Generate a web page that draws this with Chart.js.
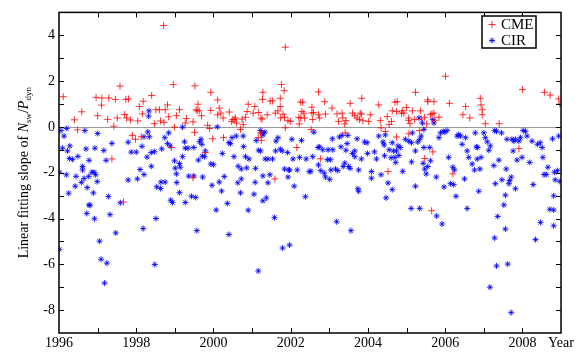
<!DOCTYPE html>
<html>
<head>
<meta charset="utf-8">
<script src="https://cdn.jsdelivr.net/npm/chart.js@4.4.1/dist/chart.umd.min.js"></script>
<style>
  html, body { margin: 0; padding: 0; background: #fff; }
  canvas { display: block; }
</style>
</head>
<body>
<canvas id="slopeChart" width="585" height="355"></canvas>
<script>
// Year ticks along the bottom (odd years get a tick mark but no label)
const yearTicks = [1996, 1998, 2000, 2002, 2004, 2006, 2008];
const slopeTicks = [4, 2, 0, -2, -4, -6, -8];

// CME events: year (decimal) and fitted slope
const cmeYear = [
  1996.11, 1996.40, 1996.59, 1996.48, 1996.96, 1997.11, 1997.10, 1997.00, 1997.26, 1997.29,
  1997.46, 1997.58, 1997.51, 1997.42, 1997.37, 1997.73, 1997.80, 1997.70, 1997.75, 1997.85,
  1998.04, 1998.08, 1998.16, 1998.18, 1998.40, 1997.90, 1997.98, 1998.13, 1997.67, 1998.47,
  1998.51, 1998.60, 1998.75, 1998.71, 1998.63, 1998.72, 1998.81, 1998.84, 1998.96, 1998.99,
  1998.91, 1999.04, 1999.12, 1999.30, 1999.27, 1999.47, 1999.52, 1999.51, 1999.55, 1999.60,
  1999.58, 1999.63, 1999.69, 1999.47, 1999.93, 1999.93, 1999.85, 1999.90, 1999.98, 1999.79,
  2000.11, 2000.15, 2000.11, 2000.19, 2000.25, 2000.26,
  2000.41, 2000.47, 2000.54, 2000.57, 2000.50, 2000.60, 2000.70, 2000.77, 2000.74, 2000.83,
  2000.87, 2000.90, 2001.03, 2001.07, 2001.17, 2001.23, 2001.26, 2001.27, 2001.28, 2001.16,
  2001.24, 2001.22, 2001.39, 2001.47, 2001.53, 2001.60, 2001.67, 2001.73, 2001.73, 2001.76,
  2001.83, 2001.86, 2001.74, 2001.80, 2001.84, 2001.93, 2001.99, 2001.86, 2001.59, 2002.16,
  2002.26, 2002.31, 2002.29, 2002.34, 2002.26, 2002.21, 2002.22, 2002.36, 2002.55, 2002.59,
  2002.55, 2002.57, 2002.53, 2002.72, 2002.75, 2002.72, 2002.88, 2002.90, 2002.77, 2003.07,
  2003.20, 2003.24, 2003.33, 2003.40, 2003.35, 2003.43, 2003.41, 2003.54, 2003.60, 2003.66,
  2003.72, 2003.80, 2003.84, 2003.83, 2003.78, 2003.87, 2004.02, 2004.06, 2004.28, 2004.32,
  2004.34, 2004.50, 2004.55, 2004.45, 2004.52,
  2004.63, 2004.70, 2004.76, 2004.61, 2004.74, 2004.74, 2004.87, 2004.93, 2005.00, 2004.89,
  2005.05, 2005.06, 2005.09, 2005.06, 2005.15, 2005.23, 2005.21, 2005.36, 2005.39, 2005.34,
  2005.47, 2005.47, 2005.52, 2005.55, 2005.55, 2005.62, 2005.66, 2005.71, 2005.71, 2005.73,
  2005.84, 2005.68, 2005.65, 2006.20, 2006.01, 2006.11, 2006.46, 2006.53, 2006.64, 2006.91,
  2006.93, 2006.96, 2006.96, 2007.04, 2007.40, 2007.91, 2008.00, 2008.57, 2008.72, 2008.94,
  2008.97
];
const cmeSlope = [
  1.32, 0.31, 0.66, -0.13, 1.29, 1.26, 0.95, 0.49, 0.33, 1.26,
  1.20, 1.78, 0.39, 0.03, -1.40, 1.20, 1.22, 0.54, 0.39, 0.30,
  0.26, 0.89, 0.57, 1.12, 1.37, -0.37, -0.54, -0.43, -3.28, 0.14,
  0.75, 0.75, 0.75, 4.43, 0.26, 0.20, 0.96, 0.44, 1.85, -0.01,
  -0.90, 0.49, 0.75, 0.37, 0.17, 0.22, 1.79, -0.24, 0.75, 0.99,
  0.70, 0.70, 0.49, -2.22, 1.51, 0.72, 0.07, -0.07, -0.52, -1.12,
  1.18, 0.82, 0.53, 0.60, 0.39, -0.47,
  0.65, 0.24, 0.32, 0.39, 0.32, 0.17, -0.11, 0.10, 0.34, 0.42,
  0.67, 0.99, 0.60, 0.89, 0.63, 0.39, 0.34, 1.20, 1.51, -0.47,
  -0.59, -0.27, 0.53, 1.13, 1.13, 0.60, 0.70, 0.89, 1.25, 1.85,
  1.58, 3.48, 0.39, 0.56, 0.42, 0.27, 0.24, -0.04, -2.27, -0.90,
  1.08, 1.08, 0.67, 0.60, 0.39, 0.42, 0.13, 0.39, 0.86, 0.63,
  0.60, 0.32, -0.11, 1.53, 0.39, 0.53, 1.10, 0.56, -1.39, 0.82,
  0.57, 0.24, 0.60, 0.13, 0.39, 0.27, -0.26, 1.03, 0.60, 0.49,
  0.39, 0.60, 1.25, 0.56, 0.32, 0.27, 0.24, 0.53, 0.96, 0.27,
  -0.04, 0.45, 0.10, -0.20, -1.95,
  0.70, 1.08, 1.10, 0.24, 0.67, -0.44, 0.60, 0.60, 0.85, 0.70,
  0.29, 0.39, 0.14, -0.30, 0.70, 1.51, 0.32, 0.70, 0.34, -0.16,
  0.42, -1.38, 0.13, 1.10, 1.18, 0.53, 0.57, 1.10, 0.60, 0.29,
  0.42, -1.09, -3.66, -2.05, 2.21, 1.03, 0.53, 0.89, 0.39, 1.25,
  0.96, 0.75, 0.53, 0.14, 0.14, -0.95, 1.63, 1.51, 1.39, 1.22,
  1.00
];

// CIR events: year (decimal) and fitted slope
const cirYear = [
  1996.05, 1996.20, 1996.13, 1996.09, 1996.22, 1996.28, 1996.27, 1996.35, 1996.49, 1996.70,
  1996.67, 1996.01, 1996.19, 1996.44, 1996.25, 1996.42, 1996.58, 1996.61, 1996.61, 1996.65,
  1996.73, 1996.77, 1996.78, 1996.85, 1996.91, 1996.93, 1996.89, 1996.99, 1996.95, 1997.00,
  1996.78, 1996.80, 1996.72, 1996.92, 1997.05, 1997.09, 1997.24, 1997.18, 1996.01, 1997.16,
  1997.22, 1997.37, 1997.28, 1997.32, 1997.47, 1997.59, 1997.79, 1997.87, 1998.00, 1997.79,
  1998.03, 1998.15, 1998.20, 1998.10, 1998.28, 1998.30, 1998.20, 1998.34, 1998.32, 1998.33,
  1998.39, 1998.47, 1998.39, 1998.66, 1998.53, 1998.63, 1998.64, 1998.75, 1998.51, 1998.18,
  1998.48, 1998.74, 1998.81, 1998.84, 1998.88, 1998.99, 1999.01, 1999.04, 1999.05, 1998.89,
  1998.94, 1999.12, 1999.14, 1999.20, 1999.25, 1999.27, 1999.34, 1999.20, 1999.12, 1999.27,
  1999.36, 1999.43, 1999.54, 1999.49, 1999.49, 1999.57, 1999.61, 1999.64, 1999.68, 1999.70,
  1999.71, 1999.77, 1999.72, 1999.79, 1999.93, 2000.00, 1999.96, 2000.07, 2000.15, 2000.21,
  2000.28, 2000.23, 2000.10,
  2000.48, 2000.40, 2000.44, 2000.59, 2000.77, 2000.53, 2000.64, 2000.72, 2000.78, 2000.83,
  2000.86, 2000.92, 2000.63, 2000.72, 2000.70, 2000.36, 2000.40, 2000.90, 2001.05, 2001.08,
  2001.09, 2001.11, 2001.17, 2001.22, 2001.22, 2001.26, 2001.33, 2001.28, 2001.34, 2001.41,
  2001.28, 2001.28, 2001.37, 2001.41, 2001.46, 2001.53, 2001.58, 2001.16, 2001.62, 2001.61,
  2001.67, 2001.73, 2001.78, 2001.84, 2001.95, 2001.93, 2002.09, 2001.97, 2001.92, 2002.03,
  2002.06, 2001.79, 2001.97, 2002.17, 2002.23, 2002.28, 2002.38, 2002.40, 2002.48, 2002.52,
  2002.57, 2002.60, 2002.71, 2002.75, 2002.72, 2002.78, 2002.83, 2002.87, 2002.90, 2002.97,
  2002.95, 2003.03, 2003.01, 2003.04, 2003.09, 2003.08, 2003.16, 2003.19, 2003.22, 2003.26,
  2003.30, 2003.33, 2003.36, 2003.40, 2003.43, 2003.46, 2003.48, 2003.50, 2003.54, 2003.56,
  2003.60, 2003.66, 2003.66, 2003.72, 2003.74, 2003.76, 2003.76, 2003.83, 2003.91, 2003.98,
  2003.99, 2004.09, 2004.09, 2004.17, 2004.22, 2004.28, 2004.34, 2004.39, 2004.42, 2004.47,
  2004.43, 2004.52, 2004.55, 2004.60, 2004.45, 2004.80,
  2004.66, 2004.63, 2004.70, 2004.74, 2004.78, 2004.84, 2004.72, 2004.90, 2004.63, 2004.97,
  2005.06, 2005.13, 2005.15, 2005.13, 2005.23, 2005.12, 2005.34, 2005.23, 2005.29, 2005.34,
  2005.38, 2005.32, 2005.41, 2005.45, 2005.45, 2005.43, 2005.47, 2005.51, 2005.55, 2005.60,
  2005.62, 2005.68, 2005.71, 2005.77, 2005.78, 2005.84, 2005.88, 2005.92, 2005.95, 2005.97,
  2005.99, 2006.05, 2006.09, 2006.14, 2006.20, 2006.22, 2006.24, 2006.28, 2006.31, 2006.35,
  2006.40, 2006.44, 2006.50, 2006.57, 2006.57, 2006.53, 2006.61, 2006.70, 2006.76, 2006.78,
  2006.81, 2006.84, 2006.83, 2006.87, 2006.90, 2006.93, 2007.00, 2007.04, 2007.09, 2007.13,
  2007.17, 2007.16, 2007.28, 2007.33, 2007.26, 2007.30, 2007.28, 2007.33, 2007.36, 2007.39,
  2007.46, 2007.47, 2007.52, 2007.56, 2007.56, 2007.58, 2007.60, 2007.62, 2007.65, 2007.67,
  2007.71, 2007.71, 2007.73, 2007.76, 2007.78, 2007.82, 2007.82, 2007.86, 2007.91, 2007.95,
  2007.99, 2008.02, 2008.08, 2008.12, 2008.19, 2008.25, 2008.28, 2008.34, 2008.39, 2008.46,
  2008.47, 2008.51, 2008.53, 2008.56, 2008.62, 2008.66, 2008.71, 2008.78, 2008.81, 2008.81,
  2008.81, 2008.83, 2008.85, 2008.91, 2008.94, 2008.97
];
const cirSlope = [
  -0.16, -0.07, -0.40, -0.93, -1.05, -0.83, -1.38, -1.42, -1.29, -0.96,
  -0.16, -1.98, -2.09, -2.16, -2.90, -2.59, -2.42, -1.88, -1.73, -2.25,
  -2.65, -2.16, -1.46, -1.98, -1.98, -0.93, -2.88, -2.39, -2.09, -0.29,
  -3.40, -3.43, -3.78, -4.01, -4.99, -5.78, -5.95, -6.82, -5.35, -1.03,
  -1.46, -0.72, -3.04, -3.83, -4.63, -3.31, -0.67, -1.10, -1.10, -2.32,
  -2.27, -0.85, -2.08, -1.86, -1.32, -0.22, -0.43, -0.43, 0.47, 0.70,
  -1.12, -1.08, -1.72, -0.96, -2.62, -2.69, -2.41, -2.41, -4.00, -4.44,
  -6.01, -0.47, -0.73, -0.26, -0.83, -1.48, -1.80, -2.05, -2.43, -3.20,
  -3.30, -1.60, -1.76, -1.30, -0.65, -0.93, -0.93, -0.01, -2.87, -3.30,
  -2.15, -3.03, -3.08, -0.90, -2.14, -4.53, -1.45, -0.65, -0.54, -0.76,
  -1.28, -1.30, -2.19, -1.05, -1.62, -1.65, -2.55, -3.63, -2.41, -2.80,
  -2.17, -1.16, 0.00,
  -0.47, -0.69, -0.73, -0.40, -0.40, -1.30, -1.72, -1.84, -0.86, -1.30,
  -1.79, -1.40, -2.44, -2.27, -2.88, -3.34, -4.70, -3.64, -2.94, -2.42,
  -1.81, -0.59, -1.02, -1.05, -0.16, -0.26, -0.23, -0.36, -1.40, -1.40,
  -2.14, -3.23, -3.10, -2.44, -2.09, -1.40, -3.96, -6.29, -0.62, -1.05,
  -0.47, -0.97, -1.05, -1.84, -1.88, -2.19, -2.59, -1.88, -1.12, -0.54,
  -1.40, -5.29, -5.16, -1.88, -1.33, -0.59, -3.05, -1.40, -1.95, -1.94,
  -1.30, -0.23, -0.90, -0.87, -1.66, -1.91, -1.00, -2.02, -2.19, -1.00,
  -1.43, -1.43, -2.29, -1.88, -1.00, -0.52, -1.84, -4.14, -1.91, -0.44,
  -0.87, -0.37, -1.73, -1.58, -1.02, -0.73, -0.37, -1.73, -1.81, -4.53,
  -1.16, -1.30, -1.05, -0.52, -2.70, -2.81, -1.88, -1.40, -0.66, -0.69,
  -1.16, -2.24, -1.95, -1.09, -1.40, -0.40, -2.09, -0.66, -0.79, -3.10,
  -1.26, -2.45, -1.00, -1.35, -0.35, -1.25,
  -1.05, -0.69, -1.33, -1.05, -0.83, -0.90, -1.55, -1.94, -2.74, -0.54,
  -0.62, -0.69, -0.26, -1.53, -2.59, -3.56, -3.56, -1.05, -0.66, -0.54,
  -0.40, 0.39, 0.17, -0.11, -0.90, -1.59, -1.84, -2.05, -1.73, -0.90,
  -1.48, 0.32, 0.17, -2.19, -3.89, -0.47, -0.26, -4.24, -0.19, -2.62,
  -0.23, -0.16, -1.33, -2.48, -1.76, -2.52, -1.88, -3.03, -0.40, -0.33,
  -0.40, -0.76, -2.27, -3.56, -1.05, -0.47, -1.33, -1.62, -1.88, -0.26,
  -0.87, -0.90, -1.40, -2.81, -1.84, -1.33, -0.26, -0.47, -0.65, -1.02,
  -0.83, -7.00, -0.16, -0.19, -1.69, -2.48, -4.85, -6.07, -3.91, -1.45,
  -0.26, -2.31, -3.41, -2.98, -4.46, -1.84, -0.54, -5.99, -2.48, -2.34,
  -2.19, -8.11, -0.54, -1.05, -0.62, -0.54, -2.70, -1.45, -0.62, -0.47,
  -1.33, -0.16, -0.19, -0.40, -1.55, -0.62, -2.52, -4.92, -0.76, -0.69,
  -4.17, -0.90, -1.33, -2.08, -2.08, -1.76, -3.60, -0.52, -3.01, -3.63,
  -4.32, -1.98, -2.31, -1.91, -0.40, -2.38
];

const cmePoints = cmeYear.map((x, i) => ({ x: x, y: cmeSlope[i] }));
const cirPoints = cirYear.map((x, i) => ({ x: x, y: cirSlope[i] }));

const serif = '"Liberation Serif", "DejaVu Serif", serif';

// Frame, inward ticks, zero line, legend box and y title with subscripts
const framePlugin = {
  id: 'frame',
  beforeDatasetsDraw(chart) {
    const { ctx, chartArea: a, scales: { y } } = chart;
    const y0 = y.getPixelForValue(0);
    ctx.save();
    ctx.strokeStyle = '#9a9a9a';
    ctx.lineWidth = 1;
    ctx.beginPath();
    ctx.moveTo(a.left, Math.round(y0) + 0.5);
    ctx.lineTo(a.right, Math.round(y0) + 0.5);
    ctx.stroke();
    ctx.restore();
  },
  afterDatasetsDraw(chart) {
    const { ctx, chartArea: a, scales: { x, y } } = chart;
    ctx.save();
    ctx.strokeStyle = '#000';
    ctx.lineWidth = 1.5;
    ctx.strokeRect(a.left, a.top, a.right - a.left, a.bottom - a.top);

    // inward ticks every year / every unit
    ctx.lineWidth = 1;
    ctx.beginPath();
    for (let yr = 1997; yr < 2009; yr++) {
      const px = Math.round(x.getPixelForValue(yr)) + 0.5;
      ctx.moveTo(px, a.bottom); ctx.lineTo(px, a.bottom - 5);
      ctx.moveTo(px, a.top); ctx.lineTo(px, a.top + 5);
    }
    for (let v = -8; v <= 4; v++) {
      const py = Math.round(y.getPixelForValue(v)) + 0.5;
      ctx.moveTo(a.left, py); ctx.lineTo(a.left + 5, py);
      ctx.moveTo(a.right, py); ctx.lineTo(a.right - 5, py);
    }
    ctx.stroke();

    // legend box, entries taken from the datasets
    const lx = 482, ly = 16, lw = 54, lh = 32;
    ctx.fillStyle = '#fff';
    ctx.fillRect(lx, ly, lw, lh);
    ctx.lineWidth = 1.5;
    ctx.strokeRect(lx, ly, lw, lh);
    ctx.font = '15px ' + serif;
    ctx.textBaseline = 'middle';
    ctx.textAlign = 'left';
    chart.data.datasets.forEach((ds, i) => {
      const cy = ly + 8.5 + i * 16;
      const mx = lx + 10;
      const r = ds.radius;
      ctx.strokeStyle = ds.borderColor;
      ctx.lineWidth = ds.borderWidth;
      ctx.beginPath();
      ctx.moveTo(mx - r, cy); ctx.lineTo(mx + r, cy);
      ctx.moveTo(mx, cy - r); ctx.lineTo(mx, cy + r);
      if (ds.pointStyle === 'star') {
        const d = r * 0.707;
        ctx.moveTo(mx - d, cy - d); ctx.lineTo(mx + d, cy + d);
        ctx.moveTo(mx - d, cy + d); ctx.lineTo(mx + d, cy - d);
      }
      ctx.stroke();
      ctx.fillStyle = '#000';
      ctx.fillText(ds.label, lx + 19, cy + 1);
    });

    // y title: Linear fitting slope of N_sw/P_dyn
    const parts = [
      { t: 'Linear fitting slope of ', f: '14px ' + serif, dy: 0 },
      { t: 'N', f: 'italic 14px ' + serif, dy: 0 },
      { t: 'sw', f: '9px ' + serif, dy: 3 },
      { t: '/', f: '14px ' + serif, dy: 0 },
      { t: 'P', f: 'italic 14px ' + serif, dy: 0 },
      { t: 'dyn', f: '9px ' + serif, dy: 3 }
    ];
    let total = 0;
    parts.forEach(p => { ctx.font = p.f; p.w = ctx.measureText(p.t).width; total += p.w; });
    ctx.translate(28, (a.top + a.bottom) / 2);
    ctx.rotate(-Math.PI / 2);
    ctx.textBaseline = 'alphabetic';
    ctx.fillStyle = '#000';
    let cx = -total / 2;
    parts.forEach(p => { ctx.font = p.f; ctx.fillText(p.t, cx, p.dy); cx += p.w; });
    ctx.restore();
  }
};

const ctx = document.getElementById('slopeChart').getContext('2d');
const slopeChart = new Chart(ctx, {
  type: 'scatter',
  data: {
    datasets: [{
      label: 'CME',
      data: cmePoints,
      pointStyle: 'cross',
      radius: 3.5,
      borderColor: 'rgba(255,0,0,0.8)',
      backgroundColor: 'rgba(255,0,0,0.8)',
      borderWidth: 1
    }, {
      label: 'CIR',
      data: cirPoints,
      pointStyle: 'star',
      radius: 3,
      borderColor: 'rgba(0,0,255,0.85)',
      backgroundColor: 'rgba(0,0,255,0.85)',
      borderWidth: 1
    }]
  },
  options: {
    responsive: false,
    animation: false,
    devicePixelRatio: 1,
    layout: { padding: { left: 0, right: 24, top: 6, bottom: 0 } },
    plugins: {
      legend: { display: false },
      tooltip: { enabled: false }
    },
    scales: {
      x: {
        type: 'linear',
        min: 1996,
        max: 2009,
        afterFit: (s) => { s.height = 22; },
        grid: { display: false, drawTicks: false },
        border: { display: false },
        ticks: {
          stepSize: 1,
          autoSkip: false,
          maxRotation: 0,
          padding: 2,
          color: '#000',
          font: { family: serif, size: 14 },
          callback: (v) => v === 2009 ? 'Year' : (yearTicks.includes(v) ? String(v) : '')
        }
      },
      y: {
        min: -9,
        max: 5,
        afterFit: (s) => { s.width = 59; },
        grid: { display: false, drawTicks: false },
        border: { display: false },
        ticks: {
          stepSize: 1,
          autoSkip: false,
          padding: 4,
          color: '#000',
          font: { family: serif, size: 14 },
          callback: (v) => slopeTicks.includes(v) ? String(v) : ''
        }
      }
    }
  },
  plugins: [framePlugin]
});
</script>
</body>
</html>
